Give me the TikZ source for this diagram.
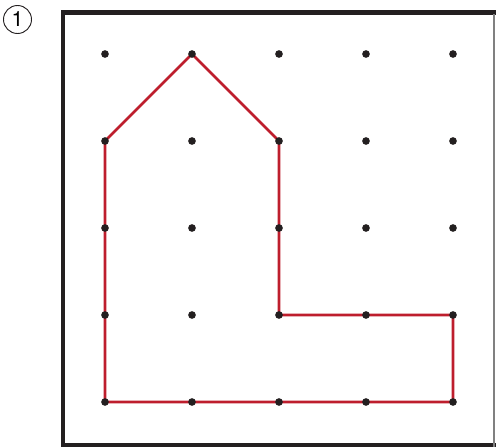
\documentclass[tikz,border=0pt]{standalone}
\usepackage{fontspec}
\setmainfont{TeX Gyre Heros}
\definecolor{pathred}{RGB}{190,30,45}
\definecolor{framegray}{RGB}{35,31,32}
\tikzset{
  dot/.style={circle, fill=framegray, inner sep=0pt, minimum size=0.23cm},
  frameline/.style={line width=4.2pt, draw=framegray},
  numbox/.style={circle, draw=framegray, line width=0.8pt, minimum size=0.84cm, inner sep=0pt, font=\fontsize{18}{20}\selectfont}
}
\begin{document}
\begin{tikzpicture}[x=0.03cm, y=-0.03cm]
        \useasboundingbox (0,0) rectangle (496,447);
        % Task number
        \node[numbox] (num) at (17.5,19.5) {1};

        % Frame
        \draw[frameline] (63,449) -- (63,12.5) -- (496,12.5);
        \draw[frameline] (61,445) -- (496,445);
        \draw[gray, line width=1.2pt] (494,14) -- (494,447);

        % Grid of dots
        \foreach \i in {0,...,4} {
            \foreach \j in {0,...,4} {
                \coordinate (p\i\j) at (105+87*\i,54+87*\j);
            }
        }

        % Red figure
        \draw[pathred, line width=2.3pt, line join=miter]
            (p01) -- (p10) -- (p21) -- (p23) -- (p43) -- (p44) -- (p04) -- cycle;

        % Dots on top
        \foreach \i in {0,...,4} {
            \foreach \j in {0,...,4} {
                \node[dot] (d\i\j) at (p\i\j) {};
            }
        }
\end{tikzpicture}
\end{document}
